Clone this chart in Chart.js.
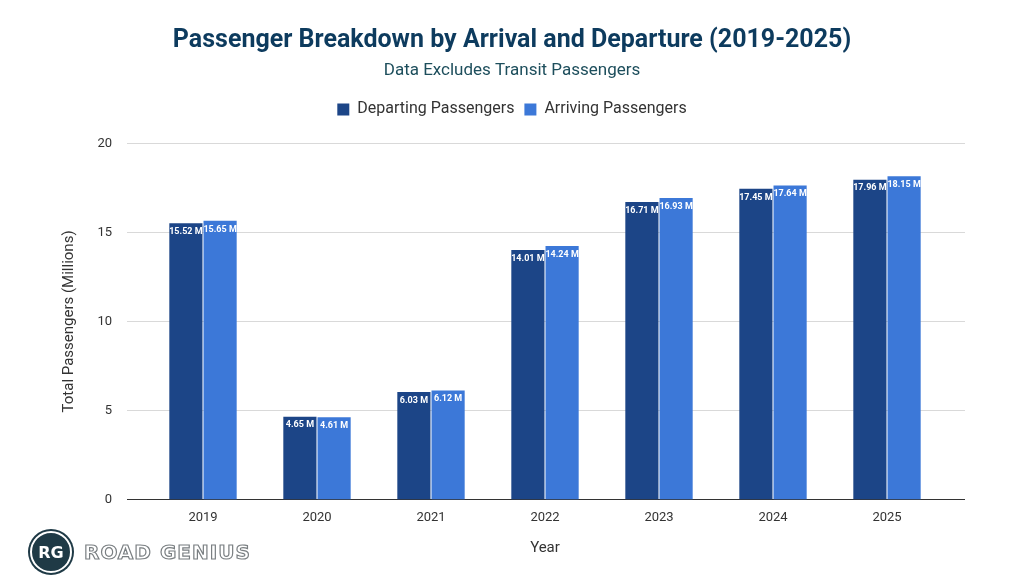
<!DOCTYPE html>
<html>
<head>
<meta charset="utf-8">
<script src="https://cdn.jsdelivr.net/npm/chart.js@4"></script>
<style>
  html, body { margin: 0; padding: 0; background: #fff; }
  #wrap { position: relative; width: 1024px; height: 582px; }
  #logo { position: absolute; left: 30px; top: 531px; display: flex; align-items: center; font-family: 'DejaVu Sans', sans-serif; }
  #logo .badge { width: 38px; height: 38px; border-radius: 50%; background: #1f3a46; color: #fff; font-weight: bold; font-size: 16px; display: flex; align-items: center; justify-content: center; border: 2px solid #fff; box-shadow: 0 0 0 2px #1f3a46; }
  #logo .name { margin-left: 12px; font-size: 20px; font-weight: bold; color: #fff; -webkit-text-stroke: 1.2px #7a7f82; letter-spacing: 1px; }
</style>
</head>
<body>
<div id="wrap">
  <canvas id="chart" width="1024" height="582"></canvas>
  <div id="logo"><div class="badge">RG</div><div class="name">ROAD GENIUS</div></div>
</div>
<script>
// Chart data
const years = ['2019', '2020', '2021', '2022', '2023', '2024', '2025'];
const departing = [15.52, 4.65, 6.03, 14.01, 16.71, 17.45, 17.96];
const arriving = [15.65, 4.61, 6.12, 14.24, 16.93, 17.64, 18.15];

const EXT_L = 19, EXT_R = 21;

// Value labels drawn just inside the top of each bar
const barLabels = {
    id: 'barLabels',
    afterDatasetsDraw(chart) {
        const ctx = chart.ctx;
        ctx.save();
        ctx.font = 'bold 9px Roboto, sans-serif';
        ctx.fillStyle = '#fff';
        ctx.textAlign = 'center';
        ctx.textBaseline = 'top';
        chart.data.datasets.forEach((ds, i) => {
            chart.getDatasetMeta(i).data.forEach((bar, j) => {
                ctx.fillText(ds.data[j].toFixed(2) + ' M', bar.x, bar.y + 4);
            });
        });
        ctx.restore();
    }
};

// gridlines run a bit wider than the bar area, plus the y title
const wideGrid = {
    id: 'wideGrid',
    beforeDatasetsDraw(chart) {
        const ctx = chart.ctx;
        const area = chart.chartArea;
        const y = chart.scales.y;
        ctx.save();
        y.ticks.forEach(t => {
            const py = Math.round(y.getPixelForValue(t.value)) + 0.5;
            ctx.strokeStyle = t.value === 0 ? '#333' : '#d9d9d9';
            ctx.lineWidth = 1;
            ctx.beginPath();
            ctx.moveTo(area.left - EXT_L, py);
            ctx.lineTo(area.right + EXT_R, py);
            ctx.stroke();
        });
        ctx.translate(69, (area.top + area.bottom) / 2);
        ctx.rotate(-Math.PI / 2);
        ctx.font = '15px Roboto, sans-serif';
        ctx.fillStyle = '#333';
        ctx.textAlign = 'center';
        ctx.textBaseline = 'middle';
        ctx.fillText('Total Passengers (Millions)', 0, 0);
        ctx.restore();
    }
};

// extra space under the legend
const legendGap = {
    id: 'legendGap',
    beforeInit(chart) {
        const fit = chart.legend.fit;
        chart.legend.fit = function () {
            fit.bind(chart.legend)();
            this.height += 16;
        };
    }
};

new Chart(document.getElementById('chart').getContext('2d'), {
    type: 'bar',
    data: {
        labels: years,
        datasets: [
            { label: 'Departing Passengers', data: departing, backgroundColor: '#1c4587' },
            { label: 'Arriving Passengers', data: arriving, backgroundColor: '#3c78d8' }
        ]
    },
    options: {
        responsive: false,
        animation: false,
        layout: { padding: { left: 80, right: 80, top: 16, bottom: 21 } },
        datasets: { bar: { categoryPercentage: 0.6, barPercentage: 0.97 } },
        plugins: {
            title: {
                display: true,
                text: 'Passenger Breakdown by Arrival and Departure (2019-2025)',
                color: '#0d3b5e',
                font: { family: 'Roboto, sans-serif', size: 25, weight: 'bold' },
                padding: { top: 10, bottom: 5 }
            },
            subtitle: {
                display: true,
                text: 'Data Excludes Transit Passengers',
                color: '#1d4e5c',
                font: { family: 'Roboto, sans-serif', size: 17 },
                padding: { bottom: 10 }
            },
            legend: {
                labels: {
                    color: '#333',
                    boxWidth: 12,
                    boxHeight: 12,
                    padding: 10,
                    font: { family: 'Roboto, sans-serif', size: 16 }
                }
            },
            tooltip: { enabled: false }
        },
        scales: {
            x: {
                grid: { display: false },
                border: { display: false },
                ticks: { color: '#333', font: { family: 'Roboto, sans-serif', size: 13 } },
                title: { display: true, text: 'Year', color: '#333', font: { family: 'Roboto, sans-serif', size: 15 }, padding: { top: 10 } }
            },
            y: {
                min: 0,
                max: 20,
                afterFit(scale) { scale.width = 66; },
                ticks: { stepSize: 5, padding: 26, color: '#333', font: { family: 'Roboto, sans-serif', size: 13 } },
                grid: { display: false },
                border: { display: false }
            }
        }
    },
    plugins: [barLabels, wideGrid, legendGap]
});
</script>
</body>
</html>
